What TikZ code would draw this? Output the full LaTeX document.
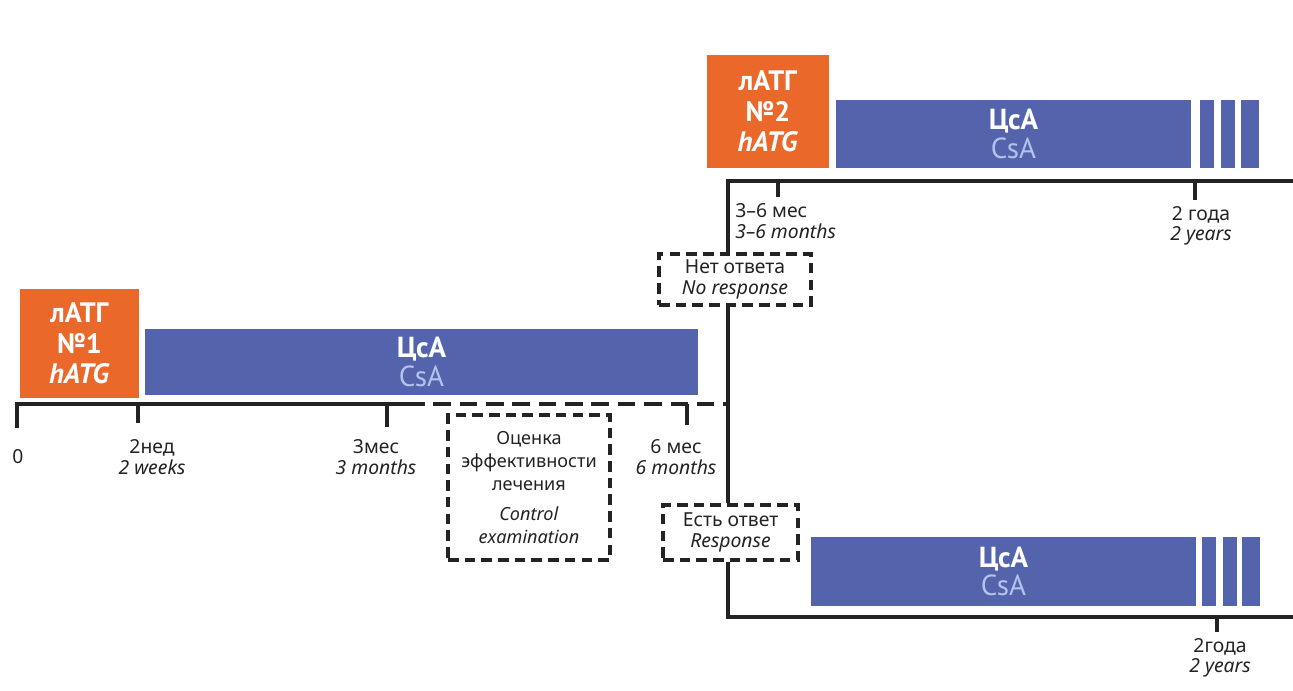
\documentclass[tikz,border=0pt]{standalone}
\usepackage{fontspec}
\setmainfont{Noto Sans}
\newfontfamily\boxfont{PT Sans}
\definecolor{atgorange}{RGB}{234,104,42}
\definecolor{csablue}{RGB}{83,99,172}
\definecolor{csalight}{RGB}{178,196,236}
\definecolor{txt}{RGB}{35,35,35}
\begin{document}
\begin{tikzpicture}[x=0.02cm,y=-0.02cm,
  obox/.style={fill=atgorange,inner sep=0pt,text=white,font=\boxfont\bfseries\fontsize{16}{17.5}\selectfont,align=center},
  bbar/.style={fill=csablue,inner sep=0pt,align=center,font=\boxfont\bfseries\fontsize{16.5}{16}\selectfont,text=white},
  axis/.style={line width=1.8pt,draw=txt},
  tick/.style={line width=1.8pt,draw=txt},
  dbox/.style={draw=txt,line width=1.8pt,dash pattern=on 6pt off 3.5pt,inner sep=0pt,align=center,text=txt,font=\fontsize{10.3}{13}\selectfont,fill=white},
  lbl/.style={text=txt,font=\fontsize{11}{11.5}\selectfont,inner sep=0pt,align=center}]
\useasboundingbox (0,0) rectangle (1293,690);
\fill[white] (0,0) rectangle (1293,690);

% treatment blocks
\node[obox,minimum width=2.38cm,minimum height=2.18cm] (atg1) at (79.5,343.5)
  {лАТГ\\№1\\\textit{hATG}};
\node[bbar,minimum width=11.06cm,minimum height=1.32cm] (csa1) at (421.5,362)
  {ЦсА\\\textcolor{csalight}{\mdseries CsA}};

\node[obox,minimum width=2.44cm,minimum height=2.26cm] (atg2) at (768,111.5)
  {лАТГ\\№2\\\textit{hATG}};
\node[bbar,minimum width=7.1cm,minimum height=1.36cm] (csa2) at (1013.5,134)
  {ЦсА\\\textcolor{csalight}{\mdseries CsA}};
\node[bbar,minimum width=0.28cm,minimum height=1.36cm] (s2a) at (1207,134) {};
\node[bbar,minimum width=0.28cm,minimum height=1.36cm] (s2b) at (1227.5,134) {};
\node[bbar,minimum width=0.36cm,minimum height=1.36cm] (s2c) at (1250,134) {};

\node[bbar,minimum width=7.7cm,minimum height=1.38cm] (csa3) at (1003.5,571.5)
  {ЦсА\\\textcolor{csalight}{\mdseries CsA}};
\node[bbar,minimum width=0.28cm,minimum height=1.38cm] (s3a) at (1209,571.5) {};
\node[bbar,minimum width=0.28cm,minimum height=1.38cm] (s3b) at (1229.5,571.5) {};
\node[bbar,minimum width=0.36cm,minimum height=1.38cm] (s3c) at (1251,571.5) {};

% main timeline
\coordinate (t0) at (17,404);
\coordinate (t2w) at (138,404);
\coordinate (t3m) at (387,404);
\coordinate (tds) at (407,404);
\coordinate (t6m) at (687,404);
\coordinate (tj) at (728,404);
\draw[axis] (t0) -- (tds);
\draw[txt,line width=2.4pt,dash pattern=on 10pt off 5pt] (tds) -- (tj);
\draw[tick] ([yshift=0.9pt]t0) -- ++(0,26);
\draw[tick] (t2w) -- ++(0,19);
\draw[tick] (t3m) -- ++(0,23);
\draw[tick] (t6m) -- ++(0,21);

\node[lbl] (l0) at (18,457) {0};
\node[lbl] (l2w) at (152,457) {2нед\\\textit{2 weeks}};
\node[lbl] (l3m) at (376,457) {3мес\\\textit{3 months}};
\node[lbl] (l6m) at (676,457) {6 мес\\\textit{6 months}};

\node[dbox,minimum width=3.24cm,minimum height=2.9cm] (ctrl) at (529,487.5)
  {Оценка\\эффективности\\лечения\\[4pt]\textit{Control}\\\textit{examination}};

% branch line
\coordinate (vtop) at (728,181);
\coordinate (vbot) at (728,617);
\node[dbox,minimum width=3.04cm,minimum height=1.02cm,font=\fontsize{11}{12}\selectfont] (noresp) at (735,279.5)
  {Нет ответа\\\textit{No response}};
\node[dbox,minimum width=2.7cm,minimum height=1.1cm,font=\fontsize{11}{12}\selectfont] (resp) at (730.5,532.5)
  {Есть ответ\\\textit{Response}};
\draw[axis] (vtop) -- (vtop |- noresp.north);
\draw[axis] (vtop |- noresp.south) -- (vtop |- resp.north);
\draw[axis] (vtop |- resp.south) -- (vbot);

% upper timeline
\coordinate (uend) at (1293,181);
\coordinate (u36) at (778,181);
\coordinate (u2y) at (1195,181);
\draw[axis] ([xshift=-0.9pt]vtop) -- (uend);
\draw[tick] (u36) -- ++(0,16);
\draw[tick] (u2y) -- ++(0,19);
\node[lbl,anchor=west,align=left] (l36) at (735,221) {3–6 мес\\\textit{3–6 months}};
\node[lbl] (l2yu) at (1201,226) {2 года\\\textit{2 years}};

% lower timeline
\coordinate (bend) at (1293,617);
\coordinate (b2y) at (1217,617);
\draw[axis] ([xshift=-0.9pt]vbot) -- (bend);
\draw[tick] (b2y) -- ++(0,15);
\node[lbl] (l2yb) at (1220,658) {2года\\\textit{2 years}};
\end{tikzpicture}
\end{document}
